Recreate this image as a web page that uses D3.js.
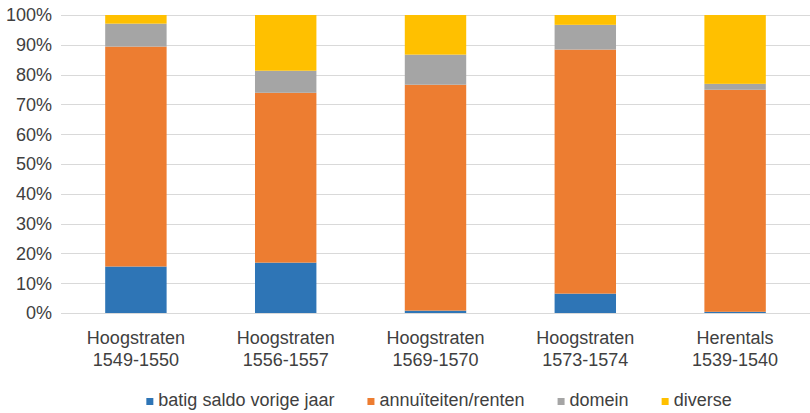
<!DOCTYPE html>
<html>
<head>
<meta charset="utf-8">
<script src="https://d3js.org/d3.v7.min.js"></script>
<style>
  body { margin: 0; background: #fff; }
  svg text { font-family: "Liberation Sans", Arial, sans-serif; fill: #404040; }
</style>
</head>
<body>
<script>
// chart data (percent of total)
var categories = [
  ["Hoogstraten", "1549-1550"],
  ["Hoogstraten", "1556-1557"],
  ["Hoogstraten", "1569-1570"],
  ["Hoogstraten", "1573-1574"],
  ["Herentals", "1539-1540"]
];
var seriesNames = ["batig saldo vorige jaar", "annuïteiten/renten", "domein", "diverse"];
var seriesColors = ["#2E75B6", "#ED7D31", "#A5A5A5", "#FFC000"];
var batigSaldo = [15.6, 16.9, 0.8, 6.5, 0.4];
var annuiteiten = [73.8, 57.0, 75.8, 81.9, 74.5];
var domein = [7.7, 7.4, 10.1, 8.3, 2.0];
var diverse = [2.9, 18.7, 13.3, 3.3, 23.1];
var yTicks = [0, 0.1, 0.2, 0.3, 0.4, 0.5, 0.6, 0.7, 0.8, 0.9, 1];

var width = 810, height = 413;
var plotLeft = 61, plotTop = 15, plotBottom = 313;
var fontSize = "18px";

var svg = d3.select("body").append("svg")
  .attr("width", width)
  .attr("height", height);

// build rows for d3.stack, normalised to 100%
var cols = [batigSaldo, annuiteiten, domein, diverse];
var rows = categories.map(function (c, i) {
  var r = { key: i };
  var tot = d3.sum(cols, function (s) { return s[i]; });
  seriesNames.forEach(function (n, j) { r[n] = cols[j][i] / tot; });
  return r;
});
var stacked = d3.stack().keys(seriesNames)(rows);

var x = d3.scaleBand()
  .domain(d3.range(categories.length))
  .range([plotLeft, width])
  .paddingInner(0.59)
  .paddingOuter(0.295);

var y = d3.scaleLinear().domain([0, 1]).range([plotBottom, plotTop]);

// gridlines
svg.append("g").selectAll("line")
  .data(yTicks)
  .enter().append("line")
    .attr("x1", plotLeft).attr("x2", width)
    .attr("y1", function (d) { return Math.round(y(d)) + 0.5; })
    .attr("y2", function (d) { return Math.round(y(d)) + 0.5; })
    .attr("stroke", "#d9d9d9")
    .attr("stroke-width", 1);

// y tick labels
svg.append("g").selectAll("text")
  .data(yTicks)
  .enter().append("text")
    .attr("x", 52)
    .attr("y", function (d) { return y(d); })
    .attr("dy", "0.35em")
    .attr("text-anchor", "end")
    .style("font-size", fontSize)
    .text(d3.format(".0%"));

// bars
svg.append("g").selectAll("g")
  .data(stacked)
  .enter().append("g")
    .attr("fill", function (d, i) { return seriesColors[i]; })
  .selectAll("rect")
  .data(function (d) { return d; })
  .enter().append("rect")
    .attr("x", function (d) { return x(d.data.key); })
    .attr("width", x.bandwidth())
    .attr("y", function (d) { return y(d[1]); })
    .attr("height", function (d) { return y(d[0]) - y(d[1]); });

// category labels (two lines)
var cat = svg.append("g").selectAll("text")
  .data(categories)
  .enter().append("text")
    .attr("text-anchor", "middle")
    .style("font-size", fontSize);
cat.selectAll("tspan")
  .data(function (d, i) { return d.map(function (t) { return { t: t, i: i }; }); })
  .enter().append("tspan")
    .attr("x", function (d) { return x(d.i) + x.bandwidth() / 2; })
    .attr("y", function (d, j) { return 344 + j * 21.5; })
    .text(function (d) { return d.t; });

// legend, centred under the plot
var legend = svg.append("g");
var items = legend.selectAll("g")
  .data(seriesNames)
  .enter().append("g");
items.append("rect")
  .attr("width", 7).attr("height", 7)
  .attr("y", 398)
  .attr("fill", function (d, i) { return seriesColors[i]; });
items.append("text")
  .attr("x", 12)
  .attr("y", 406)
  .style("font-size", fontSize)
  .text(function (d) { return d; });

var pos = 0, offsets = [];
items.each(function () {
  offsets.push(pos);
  pos += 12 + d3.select(this).select("text").node().getComputedTextLength() + 33;
});
var total = pos - 33;
var start = 439 - total / 2;
items.attr("transform", function (d, i) { return "translate(" + (start + offsets[i]) + ",0)"; });
</script>
</body>
</html>
